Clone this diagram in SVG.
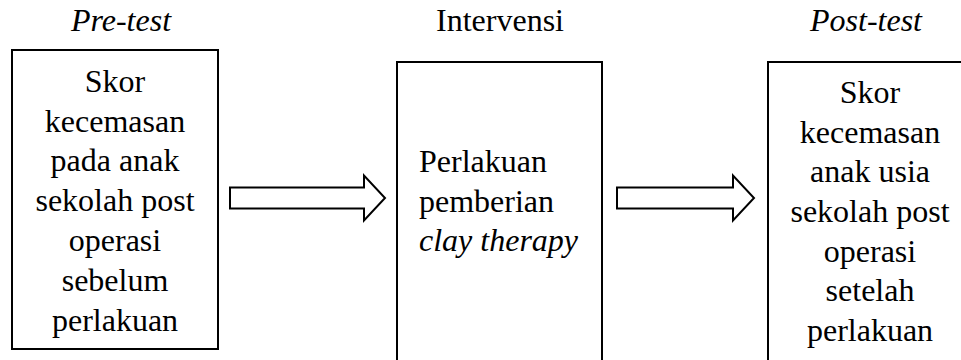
<svg xmlns="http://www.w3.org/2000/svg" width="961" height="360" viewBox="0 0 961 360">
<style>
  text { font-family: "Liberation Serif", "Times New Roman", serif; font-size: 32px; fill: #000; }
  .c { text-anchor: middle; }
  .i { font-style: italic; }
  .box { fill: #fff; stroke: #000; stroke-width: 2; }
  .arrow { fill: #fff; stroke: #000; stroke-width: 2; stroke-linejoin: miter; }
</style>
<rect width="961" height="360" fill="#fff"/>
<g id="heading-pre"><text class="c i" x="121" y="31">Pre-test</text></g>
<g id="heading-int"><text class="c" x="500" y="31">Intervensi</text></g>
<g id="heading-post"><text class="c i" x="866" y="31">Post-test</text></g>

<g id="node-pretest">
  <rect class="box" x="12" y="50" width="206" height="299"/>
  <text class="c" x="115" y="91.5">Skor</text>
  <text class="c" x="115" y="131.5">kecemasan</text>
  <text class="c" x="115" y="171">pada anak</text>
  <text class="c" x="115" y="211">sekolah post</text>
  <text class="c" x="115" y="251">operasi</text>
  <text class="c" x="115" y="290.5">sebelum</text>
  <text class="c" x="115" y="330.5">perlakuan</text>
</g>

<g id="node-intervensi">
  <rect class="box" x="397" y="62" width="205" height="310"/>
  <text x="419" y="171.5">Perlakuan</text>
  <text x="419" y="211.5">pemberian</text>
  <text class="i" x="419" y="251">clay therapy</text>
</g>

<g id="node-posttest">
  <rect class="box" x="768" y="62" width="204" height="310"/>
  <text class="c" x="870" y="102.5">Skor</text>
  <text class="c" x="870" y="142.5">kecemasan</text>
  <text class="c" x="870" y="182">anak usia</text>
  <text class="c" x="870" y="222">sekolah post</text>
  <text class="c" x="870" y="262">operasi</text>
  <text class="c" x="870" y="301">setelah</text>
  <text class="c" x="870" y="341">perlakuan</text>
</g>

<g id="connectors">
  <path class="arrow" d="M230,187.5 H364 V175.5 L385,198 L364,220.5 V208.5 H230 Z"/>
  <path class="arrow" d="M617,187.5 H733 V175.5 L754,198 L733,220.5 V208.5 H617 Z"/>
</g>
</svg>
